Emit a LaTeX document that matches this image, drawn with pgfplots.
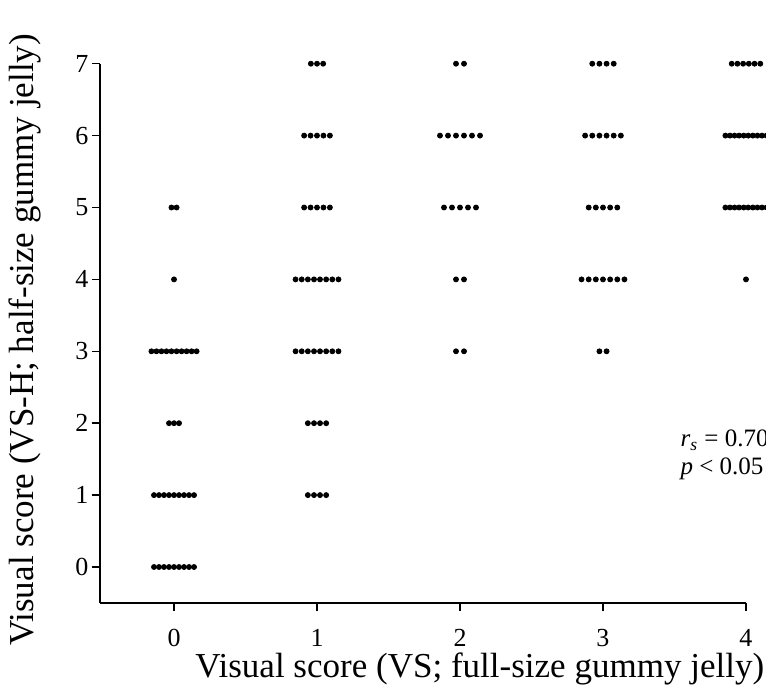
\documentclass[border=0pt]{standalone}
\usepackage{pgfplots}
\pgfplotsset{compat=1.18}
\usepackage{fontspec}
\setmainfont{Liberation Serif}
\begin{document}
\begin{tikzpicture}
\begin{axis}[
  scale only axis,
  width=323pt, height=269.5pt,
  xmin=-0.52, xmax=4, ymin=-0.5, ymax=7,
  axis lines=left,
  axis line style={-, line width=1pt},
  xtick={0,1,2,3,4}, ytick={0,1,2,3,4,5,6,7},
  tick align=outside,
  major tick length=4pt,
  tick style={line width=0.8pt, black},
  /pgf/number format/assume math mode=true,
  xticklabel style={font=\fontsize{13}{14}\selectfont, inner sep=1pt, yshift=-8pt},
  yticklabel style={font=\fontsize{13}{14}\selectfont, inner sep=1pt, xshift=-0.5pt},
  clip=false,
]
\addplot[only marks, mark=*, mark size=1.25pt, black] coordinates {
% column 0
(-0.018,5) (0.018,5)
(0,4)
(-0.158,3) (-0.123,3) (-0.088,3) (-0.053,3) (-0.018,3) (0.018,3) (0.053,3) (0.088,3) (0.123,3) (0.158,3)
(-0.035,2) (0,2) (0.035,2)
(-0.14,1) (-0.105,1) (-0.07,1) (-0.035,1) (0,1) (0.035,1) (0.07,1) (0.105,1) (0.14,1)
(-0.14,0) (-0.105,0) (-0.07,0) (-0.035,0) (0,0) (0.035,0) (0.07,0) (0.105,0) (0.14,0)
% column 1
(0.957,7) (1,7) (1.043,7)
(0.91,6) (0.955,6) (1,6) (1.045,6) (1.09,6)
(0.91,5) (0.955,5) (1,5) (1.045,5) (1.09,5)
(0.85,4) (0.893,4) (0.936,4) (0.979,4) (1.021,4) (1.064,4) (1.107,4) (1.15,4)
(0.85,3) (0.893,3) (0.936,3) (0.979,3) (1.021,3) (1.064,3) (1.107,3) (1.15,3)
(0.936,2) (0.979,2) (1.021,2) (1.064,2)
(0.936,1) (0.979,1) (1.021,1) (1.064,1)
% column 2
(1.972,7) (2.028,7)
(1.86,6) (1.916,6) (1.972,6) (2.028,6) (2.084,6) (2.14,6)
(1.888,5) (1.944,5) (2,5) (2.056,5) (2.112,5)
(1.972,4) (2.028,4)
(1.972,3) (2.028,3)
% column 3
(2.925,7) (2.975,7) (3.025,7) (3.075,7)
(2.875,6) (2.925,6) (2.975,6) (3.025,6) (3.075,6) (3.125,6)
(2.9,5) (2.95,5) (3,5) (3.05,5) (3.1,5)
(2.85,4) (2.9,4) (2.95,4) (3,4) (3.05,4) (3.1,4) (3.15,4)
(2.975,3) (3.025,3)
% column 4
(3.9,7) (3.94,7) (3.98,7) (4.02,7) (4.06,7) (4.1,7)
(3.856,6) (3.888,6) (3.92,6) (3.952,6) (3.984,6) (4.016,6) (4.048,6) (4.08,6) (4.112,6) (4.144,6)
(3.856,5) (3.888,5) (3.92,5) (3.952,5) (3.984,5) (4.016,5) (4.048,5) (4.08,5) (4.112,5) (4.144,5)
(4,4)
};
\node[anchor=base east, font=\fontsize{17.5}{20}\selectfont, inner sep=0pt] at (axis cs:4.13,-1.53) {Visual score (VS; full-size gummy jelly)};
\node[rotate=90, anchor=base, font=\fontsize{17.5}{20}\selectfont, inner sep=0pt] at (axis cs:-0.986,3.16) {Visual score (VS-H; half-size gummy jelly)};
\node[anchor=base west, font=\fontsize{12.5}{15}\selectfont, inner sep=0pt] at (axis cs:3.54,1.67) {\textit{r}\textsubscript{\textit{s}} = 0.70};
\node[anchor=base west, font=\fontsize{12.5}{15}\selectfont, inner sep=0pt] at (axis cs:3.54,1.28) {\textit{p} {<} 0.05};
\coordinate (bbBL) at (axis cs:-1.217,-1.78);
\coordinate (bbTR) at (axis cs:4.14,7.886);
\end{axis}
\pgfresetboundingbox
\useasboundingbox (bbBL) rectangle (bbTR);
\end{tikzpicture}
\end{document}
